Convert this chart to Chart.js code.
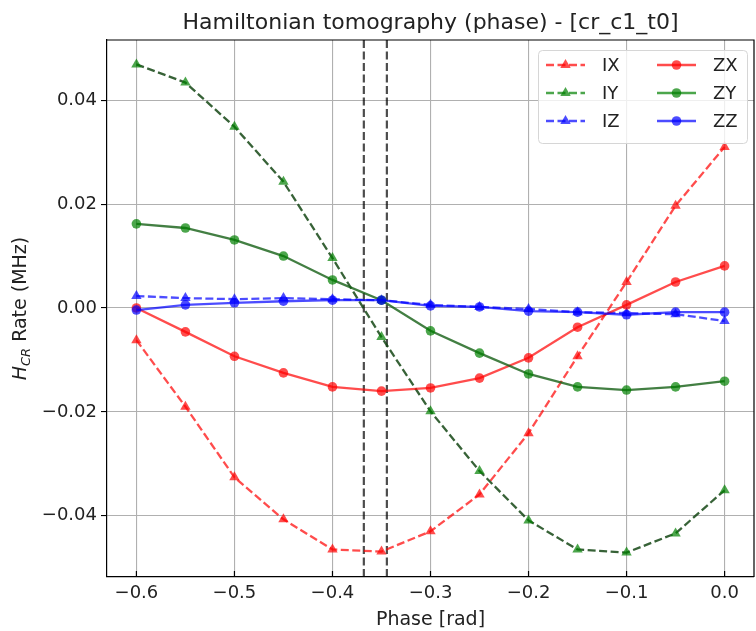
<!DOCTYPE html>
<html>
<head>
<meta charset="utf-8">
<script src="https://cdn.jsdelivr.net/npm/chart.js@4/dist/chart.umd.min.js"></script>
<style>
  body { margin: 0; background: #fff; overflow: hidden; }
  #wrap { width: 756px; height: 631px; overflow: hidden; }
</style>
</head>
<body>
<div id="wrap"><canvas id="c" width="760" height="631"></canvas></div>
<script>
// phase sweep (rad) and fitted Hamiltonian terms (MHz)
const phases = [-0.6, -0.55, -0.5, -0.45, -0.4, -0.35, -0.3, -0.25, -0.2, -0.15, -0.1, -0.05, 0.0];
const IX = [-0.0062, -0.0190, -0.0326, -0.0407, -0.0465, -0.0469, -0.0430, -0.0359, -0.0241, -0.0093, 0.0050, 0.0197, 0.0310];
const IY = [0.0469, 0.0434, 0.0349, 0.0243, 0.0096, -0.0056, -0.0199, -0.0314, -0.0409, -0.0465, -0.0471, -0.0434, -0.0351];
const IZ = [0.0023, 0.0019, 0.0017, 0.0019, 0.0017, 0.0015, 0.0006, 0.0002, -0.0002, -0.0008, -0.0010, -0.0012, -0.0025];
const ZX = [0.0000, -0.0046, -0.0093, -0.0125, -0.0152, -0.0160, -0.0154, -0.0135, -0.0096, -0.0037, 0.0006, 0.0050, 0.0081];
const ZY = [0.0162, 0.0154, 0.0131, 0.0100, 0.0054, 0.0015, -0.0044, -0.0087, -0.0127, -0.0152, -0.0158, -0.0152, -0.0141];
const ZZ = [-0.0004, 0.0006, 0.0010, 0.0013, 0.0015, 0.0015, 0.0004, 0.0002, -0.0006, -0.0008, -0.0013, -0.0008, -0.0008];

// the two phases marked by vertical dashed lines
const markerPhases = [-0.368, -0.3445];

const xTicks = [-0.6, -0.5, -0.4, -0.3, -0.2, -0.1, 0.0];
const yTicks = [-0.04, -0.02, 0.0, 0.02, 0.04];

const FONT = "'DejaVu Sans', sans-serif";
const RED = 'rgba(255,0,0,0.7)';
const GREEN = 'rgba(0,128,0,0.7)';
const BLUE = 'rgba(0,0,255,0.7)';
const DASH = [8, 3.5];

const pts = (ys) => phases.map((x, i) => ({ x: x, y: ys[i] }));

function series(label, ys, color, lineColor, dashed, order) {
    return {
        label: label,
        data: pts(ys),
        borderColor: lineColor,
        backgroundColor: color,
        legendColor: color,
        borderWidth: 2.3,
        borderDash: dashed ? DASH : [],
        pointStyle: dashed ? 'triangle' : 'circle',
        pointRadius: dashed ? 6 : 4.8,
        pointBorderWidth: 0,
        pointBackgroundColor: color,
        tension: 0,
        order: order
    };
}

const minus = (s) => s.replace('-', '\u2212');

// matplotlib-ish extras: title, y label with subscript, top spine, inward x ticks, vlines, legend
const extras = {
    id: 'extras',
    beforeDatasetsDraw(chart) {
        const { ctx, chartArea: a, scales } = chart;
        ctx.save();
        ctx.strokeStyle = 'rgba(0,0,0,0.7)';
        ctx.lineWidth = 2.2;
        ctx.setLineDash(DASH);
        markerPhases.forEach(p => {
            const x = scales.x.getPixelForValue(p);
            ctx.beginPath();
            ctx.moveTo(x, a.top);
            ctx.lineTo(x, a.bottom);
            ctx.stroke();
        });
        ctx.restore();
    },
    afterDraw(chart) {
        const { ctx, chartArea: a, scales } = chart;
        ctx.save();
        // top and right spines
        ctx.strokeStyle = '#000';
        ctx.lineWidth = 1.2;
        ctx.beginPath();
        ctx.moveTo(a.left, a.top);
        ctx.lineTo(a.right, a.top);
        ctx.lineTo(a.right, a.bottom);
        ctx.stroke();
        // inward x ticks
        ctx.lineWidth = 1.2;
        xTicks.forEach(v => {
            const x = scales.x.getPixelForValue(v);
            ctx.beginPath();
            ctx.moveTo(x, a.bottom);
            ctx.lineTo(x, a.bottom - 6);
            ctx.stroke();
        });

        // title
        ctx.fillStyle = '#222';
        ctx.font = '22px ' + FONT;
        ctx.textAlign = 'center';
        ctx.textBaseline = 'alphabetic';
        ctx.fillText('Hamiltonian tomography (phase) - [cr_c1_t0]', (a.left + a.right) / 2, 29);

        // x label
        ctx.font = '19px ' + FONT;
        ctx.fillText('Phase [rad]', (a.left + a.right) / 2, 625);

        // y label
        ctx.translate(26, (a.top + a.bottom) / 2);
        ctx.rotate(-Math.PI / 2);
        const big = '19px ' + FONT, it = 'italic 19px ' + FONT, sub = 'italic 13px ' + FONT;
        ctx.font = it; const wH = ctx.measureText('H').width;
        ctx.font = sub; const wS = ctx.measureText('CR').width;
        ctx.font = big; const wR = ctx.measureText(' Rate (MHz)').width;
        let x0 = -(wH + wS + wR) / 2;
        ctx.textAlign = 'left';
        ctx.font = it; ctx.fillText('H', x0, 0); x0 += wH;
        ctx.font = sub; ctx.fillText('CR', x0, 4); x0 += wS;
        ctx.font = big; ctx.fillText(' Rate (MHz)', x0, 0);
        ctx.restore();

        // legend, two columns filled column-wise like matplotlib
        ctx.save();
        const bx = 538, by = 50, bw = 209, bh = 93;
        ctx.fillStyle = 'rgba(255,255,255,0.8)';
        ctx.strokeStyle = '#d6d6d6';
        ctx.lineWidth = 1;
        ctx.beginPath();
        ctx.roundRect(bx + 0.5, by + 0.5, bw, bh, 4);
        ctx.fill();
        ctx.stroke();
        const ds = chart.data.datasets;
        const colX = [546, 657];
        const rowY = [65, 93, 121];
        ds.forEach((d, i) => {
            const col = Math.floor(i / 3), row = i % 3;
            const x1 = colX[col], x2 = x1 + 39, y = rowY[row];
            const c = d.legendColor;
            ctx.strokeStyle = c;
            ctx.lineWidth = 2.3;
            ctx.setLineDash(d.borderDash);
            ctx.beginPath();
            ctx.moveTo(x1, y);
            ctx.lineTo(x2, y);
            ctx.stroke();
            ctx.setLineDash([]);
            ctx.fillStyle = c;
            const mx = (x1 + x2) / 2;
            ctx.beginPath();
            if (d.pointStyle === 'triangle') {
                const r = 6;
                ctx.moveTo(mx, y - r);
                ctx.lineTo(mx + r * 0.866, y + r * 0.5);
                ctx.lineTo(mx - r * 0.866, y + r * 0.5);
                ctx.closePath();
            } else {
                ctx.arc(mx, y, 4.8, 0, Math.PI * 2);
            }
            ctx.fill();
            ctx.fillStyle = '#222';
            ctx.font = '18px ' + FONT;
            ctx.textAlign = 'left';
            ctx.textBaseline = 'middle';
            ctx.fillText(d.label, x2 + 17, y + 1);
        });
        ctx.restore();
    }
};

new Chart(document.getElementById('c'), {
    type: 'line',
    data: {
        datasets: [
            series('IX', IX, RED, RED, true, 6),
            series('IY', IY, GREEN, 'rgba(20,70,20,0.85)', true, 5),
            series('IZ', IZ, BLUE, BLUE, true, 4),
            series('ZX', ZX, RED, RED, false, 3),
            series('ZY', ZY, GREEN, 'rgba(20,95,20,0.8)', false, 2),
            series('ZZ', ZZ, BLUE, BLUE, false, 1)
        ]
    },
    options: {
        responsive: false,
        animation: false,
        layout: { padding: { top: 40, left: 0, right: 2, bottom: 0 } },
        plugins: {
            legend: { display: false },
            title: { display: false },
            tooltip: { enabled: false }
        },
        scales: {
            x: {
                type: 'linear',
                min: -0.63,
                max: 0.03,
                afterFit: (s) => { s.height = 54; },
                afterBuildTicks: (s) => { s.ticks = xTicks.map(v => ({ value: v })); },
                grid: { color: '#b0b0b0', lineWidth: 1.1, drawTicks: false },
                border: { color: '#000', width: 1.2 },
                ticks: {
                    padding: 6,
                    color: '#222',
                    font: { family: FONT, size: 18 },
                    maxRotation: 0,
                    callback: (v) => minus(Number(v).toFixed(1))
                }
            },
            y: {
                type: 'linear',
                min: -0.0518,
                max: 0.0516,
                afterFit: (s) => { s.width = 107; },
                afterBuildTicks: (s) => { s.ticks = yTicks.map(v => ({ value: v })); },
                grid: { color: '#b0b0b0', lineWidth: 1.1, tickLength: 6, tickColor: '#000' },
                border: { color: '#000', width: 1.2 },
                ticks: {
                    padding: 4,
                    color: '#222',
                    font: { family: FONT, size: 18 },
                    callback: (v) => minus(Number(v).toFixed(2))
                }
            }
        }
    },
    plugins: [extras]
});
</script>
</body>
</html>
